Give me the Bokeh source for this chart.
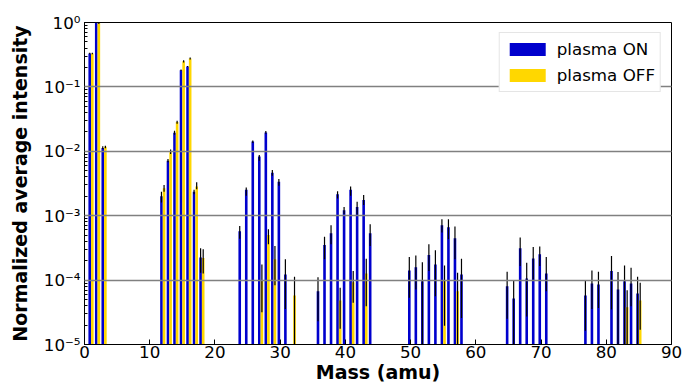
from bokeh.plotting import figure
from bokeh.models import (Range1d, LogTicker, SingleIntervalTicker, CustomJSTickFormatter,
                          Legend, LegendItem, ColumnDataSource)
from bokeh.transform import dodge
from bokeh.embed import file_html
from bokeh.resources import INLINE

# ---- data ----
on_mass = [1, 2, 3, 12, 13, 14, 15, 16, 17, 18, 24, 25, 26, 27, 28, 29, 30, 31,
           36, 37, 38, 39, 40, 41, 42, 43, 44, 50, 51, 52, 53, 54, 55, 56, 57, 58,
           65, 66, 67, 68, 69, 70, 71, 77, 78, 79, 81, 82, 83, 84, 85]
on_val = [0.331, 0.99, 0.0113,
          0.00201, 0.00716, 0.0194, 0.182, 0.207, 0.00235, 0.000225,
          0.000573, 0.00253, 0.0142, 0.00827, 0.0196, 0.00465, 0.00337, 0.000122,
          6.7e-5, 0.00035, 0.000533, 0.00216, 0.00122, 0.00253, 0.00137, 0.00176, 0.000533,
          0.000141, 0.000159, 9.6e-5, 0.000245, 0.000175, 0.00071, 0.000662, 0.000446, 0.000122,
          8.03e-5, 5.16e-5, 0.000311, 0.000106, 0.000217, 0.000251, 0.000127,
          5.75e-5, 8.85e-5, 8.53e-5, 0.000138, 7.13e-5, 9.6e-5, 8.85e-5, 6.18e-5]
on_hi = [0.34, 1.0, 0.0120,
         0.00235, 0.0076, 0.0208, 0.186, 0.212, 0.00253, 0.000311,
         0.000693, 0.00275, 0.0147, 0.0088, 0.0206, 0.00513, 0.00371, 0.00021,
         0.000111, 0.000473, 0.00071, 0.00239, 0.00137, 0.00285, 0.00164, 0.00209, 0.000737,
         0.000228, 0.000242, 0.00019, 0.000359, 0.00029, 0.00088, 0.00088, 0.000679, 0.000215,
         0.000135, 9.86e-5, 0.000457, 0.000186, 0.000326, 0.000331, 0.000228,
         9.86e-5, 0.000141, 0.000135, 0.000236, 0.000133, 0.000169, 0.000156, 0.000113]
on_lo = [0.322, 0.98, 0.0109,
         0.00161, 0.00676, 0.018, 0.177, 0.203, 0.00216, 0.00013,
         0.00044, 0.00204, 0.0135, 0.00716, 0.0187, 0.00418, 0.00292, 3.57e-5,
         2.29e-5, 0.00021, 0.000359, 0.00185, 0.00106, 0.00204, 0.00103, 0.00146, 0.000338,
         5.3e-5, 7.13e-5, 5e-6, 0.000138, 5.6e-5, 0.000547, 0.00043, 0.00021, 2.58e-5,
         2.52e-5, 5e-6, 0.000165, 2.73e-5, 0.000102, 0.000165, 6.7e-5,
         1.64e-5, 3.57e-5, 3.7e-5, 3.48e-5, 5e-6, 5e-6, 3.92e-5, 5e-6]

off_mass = [1, 2, 3, 12, 13, 14, 15, 16, 17, 18, 27, 28, 29, 32, 39, 41, 43, 55, 57, 83, 85]
off_val = [0.331, 0.97, 0.0118, 0.00266, 0.00968, 0.0284, 0.251, 0.276, 0.00285, 0.00022,
           9.86e-5, 0.000501, 0.00021, 5.75e-5, 4.81e-5, 9.27e-5, 0.000127, 9.86e-5, 6.7e-5,
           3.78e-5, 4.81e-5]
off_hi = [0.34, 0.99, 0.0122, 0.00299, 0.01064, 0.0298, 0.26, 0.2865, 0.0033, 0.0003,
          0.000175, 0.000616, 0.000338, 0.000113, 7.6e-5, 0.000138, 0.000215, 0.000169, 0.00013,
          6.95e-5, 9.08e-5]
off_lo = [0.322, 0.95, 0.0112, 0.00235, 0.0091, 0.0268, 0.239, 0.2667, 0.00257, 0.000127,
          3.16e-5, 0.000359, 8.3e-5, 5e-6, 1.76e-5, 4.43e-5, 3.92e-5, 1.96e-5, 5e-6,
          5e-6, 1.7e-5]

series_labels = ["plasma ON", "plasma OFF"]
x_label = "Mass (amu)"
y_label = "Normalized average intensity"

FONT = "DejaVu Sans"
BLUE = "#0000CD"
GOLD = "#FFD700"

p = figure(width=684, height=387, output_backend="svg", toolbar_location=None,
           x_range=Range1d(0, 90), y_range=Range1d(1e-5, 1), y_axis_type="log",
           min_border_left=84, min_border_right=13, min_border_top=22, min_border_bottom=43,
           background_fill_color="white", border_fill_color="white")
p.outline_line_color = "black"
p.outline_line_width = 1
p.outline_line_alpha = 1

src_on = ColumnDataSource(dict(m=on_mass, v=on_val, hi=on_hi, lo=on_lo))
src_off = ColumnDataSource(dict(m=off_mass, v=off_val, hi=off_hi, lo=off_lo))

x_on = dodge('m', -0.2, range=p.x_range)
x_off = dodge('m', 0.2, range=p.x_range)

r_on = p.vbar(x=x_on, top='v', bottom=1e-7, width=0.4, fill_color=BLUE,
              line_color=None, source=src_on)
r_off = p.vbar(x=x_off, top='v', bottom=1e-7, width=0.4, fill_color=GOLD,
               line_color=None, source=src_off)
p.segment(x0=x_on, x1=x_on, y0='lo', y1='hi', line_color="black", line_width=1.2,
          source=src_on)
p.segment(x0=x_off, x1=x_off, y0='lo', y1='hi', line_color="black", line_width=1.2,
          source=src_off)

# grid
p.xgrid.visible = False
p.ygrid.grid_line_color = "#808080"
p.ygrid.grid_line_width = 1.6
p.ygrid.level = "overlay"

# axes
p.xaxis.ticker = SingleIntervalTicker(interval=10, num_minor_ticks=0)
p.yaxis.ticker = LogTicker(num_minor_ticks=10)
p.yaxis.formatter = CustomJSTickFormatter(code="""
const e = Math.round(Math.log10(tick));
const m = {"-":"\u207b","0":"\u2070","1":"\u00b9","2":"\u00b2","3":"\u00b3","4":"\u2074",
           "5":"\u2075","6":"\u2076","7":"\u2077","8":"\u2078","9":"\u2079"};
return "10" + String(e).split("").map(c => m[c]).join("");
""")
for ax in (p.xaxis[0], p.yaxis[0]):
    ax.axis_line_color = "black"
    ax.axis_line_width = 1
    ax.major_tick_in = 5
    ax.major_tick_out = 0
    ax.minor_tick_in = 3
    ax.minor_tick_out = 0
    ax.major_tick_line_color = "black"
    ax.minor_tick_line_color = "black"
    ax.major_label_text_font = FONT
    ax.major_label_text_font_size = "16.7px"
    ax.major_label_text_color = "black"
    ax.axis_label_text_font = FONT
    ax.axis_label_text_font_size = "19px"
    ax.axis_label_text_font_style = "bold"
    ax.axis_label_text_color = "black"
p.xaxis.major_label_standoff = 1
p.xaxis.axis_label_standoff = 0
p.yaxis.major_label_standoff = 4
p.yaxis.axis_label_standoff = 10
p.xaxis.axis_label = x_label
p.yaxis.axis_label = y_label

legend = Legend(items=[LegendItem(label=series_labels[0], renderers=[r_on]),
                       LegendItem(label=series_labels[1], renderers=[r_off])],
                location="top_right")
legend.label_text_font = FONT
legend.label_text_font_size = "16.7px"
legend.label_text_color = "black"
legend.glyph_width = 45
legend.glyph_height = 16
legend.label_height = 22
legend.label_standoff = 7
legend.spacing = 4
legend.padding = 5
legend.margin = 10
legend.border_line_color = "#cccccc"
legend.border_line_width = 1
legend.background_fill_color = "white"
legend.background_fill_alpha = 1
p.add_layout(legend)

open("out.html", "w").write(file_html(p, INLINE))
